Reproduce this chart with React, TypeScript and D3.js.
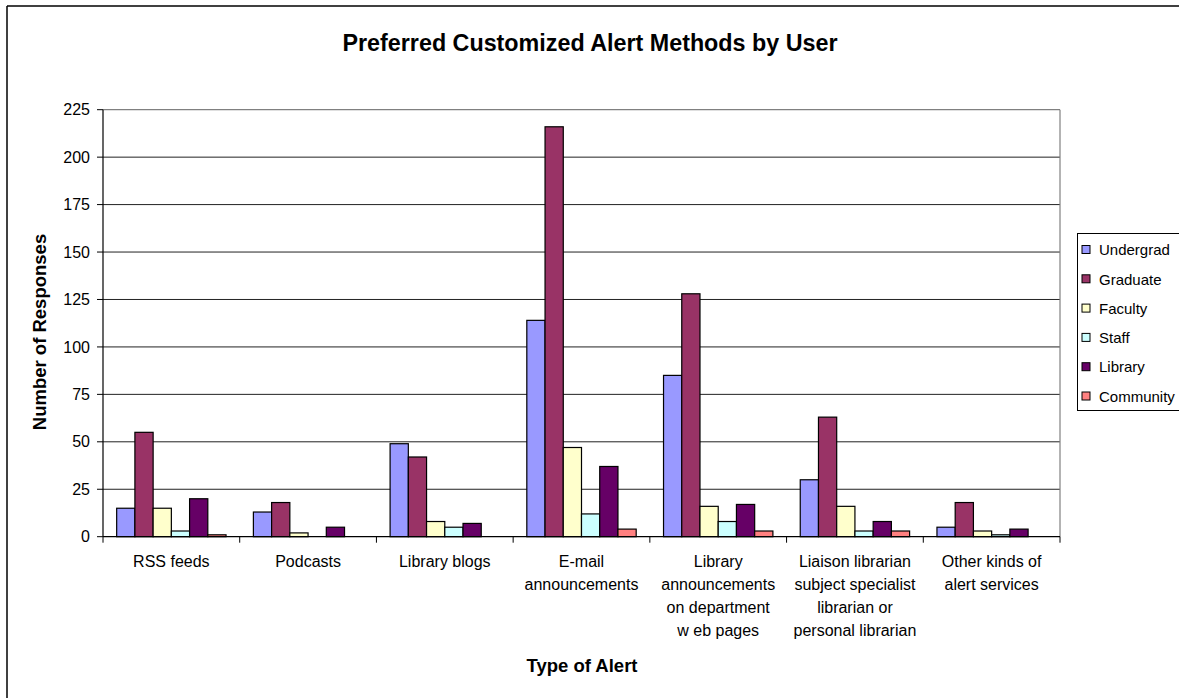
import React from "react";
import * as d3 from "d3";

const categories: string[][] = [
  ["RSS feeds"],
  ["Podcasts"],
  ["Library blogs"],
  ["E-mail", "announcements"],
  ["Library", "announcements", "on department", "w eb pages"],
  ["Liaison librarian", "subject specialist", "librarian or", "personal librarian"],
  ["Other kinds of", "alert services"],
];
const seriesNames = ["Undergrad", "Graduate", "Faculty", "Staff", "Library", "Community"];
const seriesColors = ["#9999FF", "#993366", "#FFFFCC", "#CCFFFF", "#660066", "#FF8080"];
const undergrad = [15, 13, 49, 114, 85, 30, 5];
const graduate = [55, 18, 42, 216, 128, 63, 18];
const faculty = [15, 2, 8, 47, 16, 16, 3];
const staff = [3, 0, 5, 12, 8, 3, 1];
const library = [20, 5, 7, 37, 17, 8, 4];
const community = [1, 0, 0, 4, 3, 3, 0];
const seriesValues = [undergrad, graduate, faculty, staff, library, community];
const yTicks = [0, 25, 50, 75, 100, 125, 150, 175, 200, 225];

const W = 1179;
const H = 698;
const font = "'Liberation Sans', Arial, sans-serif";

export default function App() {
  const left = 103;
  const right = 1060;
  const top = 109.7;
  const bottom = 536.7;
  const catKeys = categories.map((_, i) => String(i));
  const x0 = d3.scaleBand<string>().domain(catKeys).range([left, right]).padding(0);
  const bw = x0.bandwidth();
  const x1 = d3.scaleBand<string>().domain(seriesNames).range([bw * 0.1, bw * 0.9]).padding(0);
  const y = d3.scaleLinear().domain([0, 225]).range([bottom, top]);

  return (
    <svg width={W} height={H} style={{ position: "absolute", left: 0, top: 0, background: "#fff" }} fontFamily={font}>
      <rect x={0} y={0} width={W} height={H} fill="#fff" />
      {/* outer chart border */}
      <line x1={7} y1={6} x2={W} y2={6} stroke="#000" strokeWidth={1.5} />
      <line x1={7} y1={6} x2={7} y2={H} stroke="#000" strokeWidth={1.5} />

      {/* title */}
      <text x={590} y={50.5} textAnchor="middle" fontSize={23.3} fontWeight="bold" fill="#000">
        Preferred Customized Alert Methods by User
      </text>

      {/* gridlines */}
      {yTicks.filter((t) => t > 0 && t < 225).map((t) => (
        <line key={"g" + t} x1={left} x2={right} y1={y(t)} y2={y(t)} stroke="#222" strokeWidth={1} />
      ))}
      {/* plot area border top/right */}
      <line x1={left} x2={right} y1={top} y2={top} stroke="#808080" strokeWidth={1.2} />
      <line x1={right} x2={right} y1={top} y2={bottom} stroke="#808080" strokeWidth={1.2} />

      {/* bars */}
      {catKeys.map((c, ci) => (
        <g key={"c" + c} transform={`translate(${x0(c)},0)`}>
          {seriesNames.map((s, si) => {
            const v = seriesValues[si][ci];
            if (v <= 0) return null;
            return (
              <rect
                key={s}
                x={x1(s)}
                y={y(v)}
                width={x1.bandwidth()}
                height={y(0) - y(v)}
                fill={seriesColors[si]}
                stroke="#000"
                strokeWidth={1.2}
              />
            );
          })}
        </g>
      ))}

      {/* axes */}
      <line x1={left} x2={left} y1={top} y2={bottom} stroke="#000" strokeWidth={1.2} />
      <line x1={left} x2={right} y1={bottom} y2={bottom} stroke="#000" strokeWidth={1.2} />
      {yTicks.map((t) => (
        <g key={"t" + t}>
          <line x1={left - 6} x2={left} y1={y(t)} y2={y(t)} stroke="#000" strokeWidth={1} />
          <text x={90} y={y(t)} dy="0.35em" textAnchor="end" fontSize={16} fill="#000">
            {t}
          </text>
        </g>
      ))}
      {[...catKeys.map((c) => x0(c) as number), right].map((xv, i) => (
        <line key={"xt" + i} x1={xv} x2={xv} y1={bottom} y2={bottom + 6} stroke="#000" strokeWidth={1} />
      ))}
      {categories.map((lines, ci) => (
        <text key={"cl" + ci} x={(x0(String(ci)) as number) + bw / 2} y={567} textAnchor="middle" fontSize={16} fill="#000">
          {lines.map((ln, li) => (
            <tspan key={li} x={(x0(String(ci)) as number) + bw / 2} y={567 + li * 23}>
              {ln}
            </tspan>
          ))}
        </text>
      ))}

      {/* axis titles */}
      <text transform="translate(46,332) rotate(-90)" textAnchor="middle" fontSize={18.5} fontWeight="bold" fill="#000">
        Number of Responses
      </text>
      <text x={582} y={671.5} textAnchor="middle" fontSize={18.5} fontWeight="bold" fill="#000">
        Type of Alert
      </text>

      {/* legend */}
      <rect x={1077.5} y={233.5} width={140} height={177} fill="#fff" stroke="#000" strokeWidth={1} />
      {seriesNames.map((s, i) => {
        const cy = 250 + i * 29.3;
        return (
          <g key={"l" + s}>
            <rect x={1082} y={cy - 4.5} width={8} height={8} fill={seriesColors[i]} stroke="#000" strokeWidth={1} />
            <text x={1099} y={cy} dy="0.35em" fontSize={15} fill="#000">
              {s}
            </text>
          </g>
        );
      })}
    </svg>
  );
}
